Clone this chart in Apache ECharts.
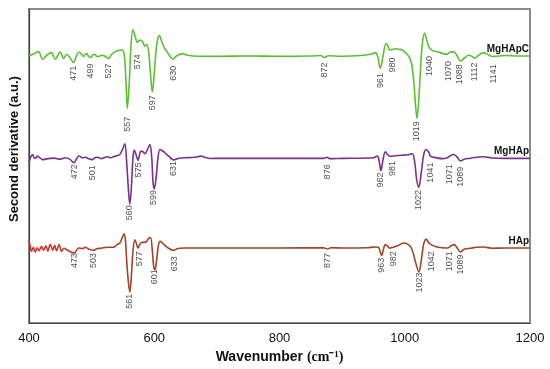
<!DOCTYPE html>
<html>
<head>
<meta charset="utf-8">
<script src="https://cdn.jsdelivr.net/npm/echarts@6/dist/echarts.min.js"></script>
<style>
html,body{margin:0;padding:0;background:#fff;}
#c{width:550px;height:369px;}
</style>
</head>
<body>
<div id="c"></div>
<script>
// Tick labels of the wavenumber axis
const xTicks = [400, 600, 800, 1000, 1200];

// Series names
const seriesNames = ['MgHApC', 'MgHAp', 'HAp'];

// Second-derivative spectra (wavenumber, a.u.) (offset traces)
const mgHApC = [
[400,-56.7],[408,-54.5],[415,-52.3],[421.8,-60],[428,-56],[435.5,-53.3],[441.8,-60],[446,-56],[449.8,-52.7],[455.2,-59.3],[460,-55],[465,-58],[471,-63.3],[476,-56],[480,-52.7],[484,-55],[487,-57.3],[490,-55],[492,-54],[495,-57],[499,-58.3],[502,-55.5],[505,-55],[508,-57],[511,-57.3],[516,-56],[520,-56.5],[527,-59.3],[532,-55],[540,-51.7],[548,-50.7],[552,-55],[555,-85],[557,-110],[560,-85],[563,-45],[566,-30],[570,-38],[573,-43],[576,-41],[579,-40.7],[582,-43],[585,-46.7],[588,-45],[591,-52],[594,-75],[597,-93.3],[600,-75],[603,-50],[606,-38],[608,-36],[612,-42],[616,-48.3],[620,-52],[624,-56],[630,-60],[636,-56.5],[645,-54.3],[653,-56],[670,-57],[700,-57],[750,-56.7],[800,-57],[850,-56.7],[866,-56.2],[872,-58.3],[878,-56.5],[900,-57],[930,-56.3],[945,-55],[953.5,-53.3],[957,-58],[961,-69.3],[965,-58],[970,-44],[973,-46],[976,-50.7],[980,-50.2],[985,-49.3],[990,-49.8],[996,-50.7],[1004,-55],[1010,-62],[1014,-80],[1017,-105],[1019.5,-120],[1022,-105],[1025,-72],[1028,-45],[1031.5,-33.3],[1035,-40],[1038,-46.7],[1042,-50],[1046,-51.7],[1052,-52.5],[1057,-53.3],[1062,-54.5],[1067,-55],[1072,-53],[1078,-52.3],[1084,-57],[1089,-61.7],[1096,-58.5],[1102,-56],[1107,-57],[1112,-59],[1118,-56],[1126,-53.3],[1132,-55],[1140,-57.3],[1145,-57],[1160,-56.3],[1180,-56.7],[1200,-56.7]
];
const mgHAp = [
[400,-165],[403,-159],[406,-156.7],[408,-160],[411,-160.5],[413,-158.3],[417,-160],[422,-162],[430,-161],[440,-160.5],[450,-161.5],[458,-160],[465,-161.5],[472,-165],[476,-161],[480,-158.3],[485,-160],[490,-159.5],[495,-161],[501,-162],[505,-160],[510,-159.5],[515,-161],[520,-160],[525,-159],[530,-160],[535,-159],[540,-158],[545,-156.7],[549,-152],[553,-146],[556,-165],[558.5,-190],[561,-207.3],[563.5,-190],[566,-160],[568,-152.3],[571,-157],[574,-162.7],[576.5,-157],[578.6,-153.3],[582,-154],[585,-156],[589,-152],[593,-146.7],[596,-160],[598,-185],[600,-191.7],[603,-180],[606,-160],[609,-151.7],[613,-153],[617,-155],[623,-158.5],[631,-162.3],[640,-160.5],[650,-160],[660,-159.8],[670,-159],[675,-158.3],[680,-159.5],[690,-160.8],[700,-160.7],[800,-160.7],[870,-160.7],[876,-159.5],[880,-161],[900,-160.7],[950,-160],[956,-158.3],[959,-163],[962,-173.3],[965,-163],[969,-154],[972,-156.5],[976,-158.5],[985,-158],[995,-157.5],[1005,-157],[1012,-156],[1016,-165],[1019,-182],[1022.5,-190],[1026,-177],[1029,-162],[1031,-155],[1034,-151.7],[1038,-154],[1041,-158.3],[1050,-160],[1060,-161],[1068,-160],[1074,-157.5],[1078,-156.7],[1083,-159],[1089,-163.3],[1095,-161.5],[1105,-160.5],[1115,-159.5],[1126,-159],[1140,-160.3],[1160,-160.7],[1200,-160.7]
];
const hAp = [
[400,-244],[402,-250],[404,-255],[407,-251],[410,-256],[413,-251.5],[416,-254.5],[420,-250],[423,-254],[427,-249.5],[430,-255],[434,-248],[438,-254],[441,-249],[444,-254.5],[448,-248.3],[452,-255],[456,-252],[461,-253.7],[468,-256],[473,-256.5],[477,-253],[480,-251.7],[485,-252.5],[490,-251],[495,-252.7],[503,-254],[508,-252.5],[515,-252],[525,-251],[535,-251],[540,-248.5],[545,-246.7],[549,-241],[551.6,-237.3],[554,-244],[556,-265],[558.5,-285],[561,-296.7],[563.5,-280],[566,-255],[569,-243.3],[572,-248],[574,-251.7],[577,-248],[580,-246],[584,-246],[588,-245],[591,-242],[594,-241],[597,-255],[599,-270],[601,-274],[603,-268],[606,-252],[609,-245],[612,-246],[617,-249],[623,-252],[630,-254],[635,-253],[640,-252],[650,-251.7],[700,-251.7],[800,-251.7],[870,-251.5],[877,-252.7],[882,-251.5],[900,-251.7],[940,-251.5],[952,-250.7],[958,-251],[961,-256],[963,-259.3],[966,-253],[969,-248.3],[973,-250],[976,-252],[980,-251.3],[985,-250.3],[990,-249],[998.5,-246.7],[1005,-248],[1010,-251],[1014,-258],[1018,-268],[1022.5,-276],[1026,-266],[1029,-252],[1031,-246],[1034,-242.7],[1038,-246],[1042,-248.3],[1050,-250.5],[1060,-251.5],[1068,-251.7],[1074,-249.5],[1079,-248.3],[1084,-252],[1089,-255.7],[1095,-253],[1105,-252],[1115,-251],[1126,-250.7],[1140,-252],[1160,-251.7],[1200,-251.7]
];

// Band annotations: [wavenumber, level of the label's upper end]
const mgHApCBands = [[471,-66.7],[499,-64.3],[527,-64.3],[557,-118.3],[574,-55],[597,-96.7],[630,-66.7],[872,-63.3],[961,-74],[980,-58.3],[1019,-123],[1040,-56.7],[1070,-61.7],[1088,-65],[1112,-63.3],[1141,-65]];
const mgHApBands = [[472,-166.7],[501,-167.7],[560,-208.3],[575,-165],[599,-192.7],[631,-163.3],[876,-166.7],[962,-175],[981,-163.3],[1022,-192.7],[1041,-165],[1071,-166.7],[1089,-169.3]];
const hApBands = [[473,-256.7],[503,-256.7],[561,-298.3],[577,-255],[601,-273.3],[633,-260],[877,-256.7],[963,-261.7],[982,-255],[1023,-276.7],[1042,-255],[1071,-255],[1089,-258.3]];

const chart = echarts.init(document.getElementById('c'), null, {renderer: 'canvas'});

const colors = ['#5cbf34', '#77338c', '#9e4528'];

function lineSeries(name, data, color) {
  return {
    name: name, type: 'line', data: data, showSymbol: false, smooth: 0.35,
    lineStyle: {color: color, width: 1.6},
    itemStyle: {color: color},
    endLabel: {show: true, formatter: name, align: 'right', verticalAlign: 'bottom',
      distance: 0, offset: [-1, -2], fontFamily: 'Liberation Sans, Arial', fontWeight: 'bold', fontSize: 10, color: '#111'},
    z: 3, animation: false
  };
}
function bandSeries(data) {
  return {
    type: 'scatter', symbolSize: 0, data: data.map(d => ({value: d, name: String(d[0])})),
    label: {show: true, position: 'inside', formatter: p => p.name, rotate: 90, align: 'right', verticalAlign: 'middle',
      fontFamily: 'Liberation Sans, Arial', fontSize: 9, color: '#222'},
    silent: true, z: 4, animation: false
  };
}

const hapColor = new echarts.graphic.LinearGradient(0, 0, 1, 0, [
  {offset: 0, color: '#d8332a'}, {offset: 0.1, color: '#c23c2a'}, {offset: 0.18, color: '#9e4528'}, {offset: 1, color: '#9e4528'}
]);

chart.setOption({
  animation: false,
  backgroundColor: '#fff',
  grid: {left: 27, right: 20, top: 9, bottom: 41, show: true, borderColor: '#8c8c8c', borderWidth: 2},
  xAxis: {
    type: 'value', min: xTicks[0], max: xTicks[xTicks.length - 1], interval: 200,
    name: '{a|Wavenumber }{b|(cm⁻¹)}', nameLocation: 'middle', nameGap: 23,
    nameTextStyle: {rich: {
      a: {fontFamily: 'Liberation Sans, Arial', fontWeight: 'bold', fontSize: 14, color: '#111'},
      b: {fontFamily: 'Liberation Serif, Times New Roman', fontWeight: 'bold', fontSize: 14, color: '#111'}
    }},
    axisLine: {show: true, lineStyle: {color: '#444', width: 1.2}},
    axisTick: {show: false},
    splitLine: {show: false},
    axisLabel: {fontFamily: 'Liberation Sans, Arial', fontSize: 13, color: '#111', margin: 9, formatter: v => String(v)}
  },
  yAxis: {
    type: 'value', min: -328, max: -9,
    name: 'Second derivative (a.u.)', nameLocation: 'middle', nameGap: 8,
    nameTextStyle: {fontFamily: 'Liberation Sans, Arial', fontWeight: 'bold', fontSize: 13, color: '#111', padding: [0, 0, 0, 34]},
    axisLine: {show: true, lineStyle: {color: '#444', width: 1.2}},
    axisTick: {show: false}, axisLabel: {show: false}, splitLine: {show: false}
  },
  series: [
    lineSeries(seriesNames[0], mgHApC, colors[0]),
    lineSeries(seriesNames[1], mgHAp, colors[1]),
    Object.assign(lineSeries(seriesNames[2], hAp, colors[2]), {lineStyle: {color: hapColor, width: 1.6}}),
    bandSeries(mgHApCBands),
    bandSeries(mgHApBands),
    bandSeries(hApBands)
  ]
});
</script>
</body>
</html>
